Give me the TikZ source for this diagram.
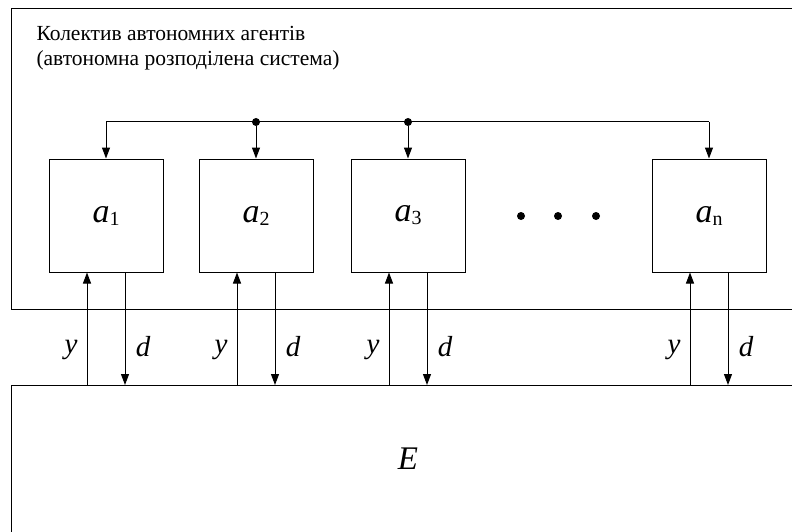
\documentclass[tikz,border=0pt]{standalone}
\usepackage{fontspec}
\setmainfont{Liberation Serif}
\usetikzlibrary{arrows.meta}
\newcommand{\agname}[1]{{\fontsize{34}{36}\selectfont\itshape a}\raisebox{-3pt}{\fontsize{20}{22}\selectfont #1}}
\begin{document}
\begin{tikzpicture}[x=1pt,y=-1pt,line width=1pt,
  agent/.style={draw, minimum width=114pt, minimum height=113pt, inner sep=0pt},
  arr/.style={-{Triangle[width=8pt,length=11pt]}},
  lab/.style={font=\fontsize{29}{32}\selectfont\itshape, inner sep=0pt, anchor=base},
  ttl/.style={font=\fontsize{21.5}{25}\selectfont, inner sep=0pt, anchor=base west},
  junc/.style={circle, fill, inner sep=0pt, minimum size=8pt},
  dotn/.style={circle, fill, inner sep=0pt, minimum size=8pt}]
\useasboundingbox (0,0) rectangle (792,532);
% outer containers
\node[draw, anchor=north west, minimum width=800pt, minimum height=301pt, inner sep=0pt] (sys) at (11,8) {};
\node[draw, anchor=north west, minimum width=800pt, minimum height=170pt, inner sep=0pt] (env) at (11,385) {};
\node[ttl] (title1) at (36,41) {Колектив автономних агентів};
\node[ttl] (title2) at (36,66) {(автономна розподілена система)};
\node[font=\fontsize{33}{36}\selectfont\itshape, inner sep=0pt] (Elab) at (408,459) {E};
% agents
\node[agent] (a1) at (106,215.5) {\raisebox{-3pt}{\agname{1}}};
\node[agent] (a2) at (256,215.5) {\raisebox{-3pt}{\agname{2}}};
\node[agent] (a3) at (408,215.5) {\raisebox{-3pt}{\agname{3}}};
\node[agent] (an) at (709,215.5) {\raisebox{-3pt}{\agname{n}}};
\node[dotn] (d1) at (521,216) {};
\node[dotn] (d2) at (558,216) {};
\node[dotn] (d3) at (596,216) {};
% bus
\coordinate (bus) at (0,122);
\node[junc] (j2) at (a2.north |- bus) {};
\node[junc] (j3) at (a3.north |- bus) {};
\coordinate (bL) at (a1.north |- bus);
\coordinate (bR) at (an.north |- bus);
\draw (bL) -- (bR);
\draw[arr] (bL) -- (a1.north);
\draw[arr] (j2) -- (a2.north);
\draw[arr] (j3) -- (a3.north);
\draw[arr] (bR) -- (an.north);
% y / d connections
\foreach \a in {a1,a2,a3,an}{
  \draw[arr] ([xshift=-19pt]\a.south |- env.north) -- ([xshift=-19pt]\a.south);
  \draw[arr] ([xshift=19pt]\a.south) -- ([xshift=19pt]\a.south |- env.north);
  \node[lab] at ([xshift=-35pt]\a.south |- 0,353) {y};
  \node[lab] at ([xshift=37pt]\a.south |- 0,356) {d};
}
\end{tikzpicture}
\end{document}
